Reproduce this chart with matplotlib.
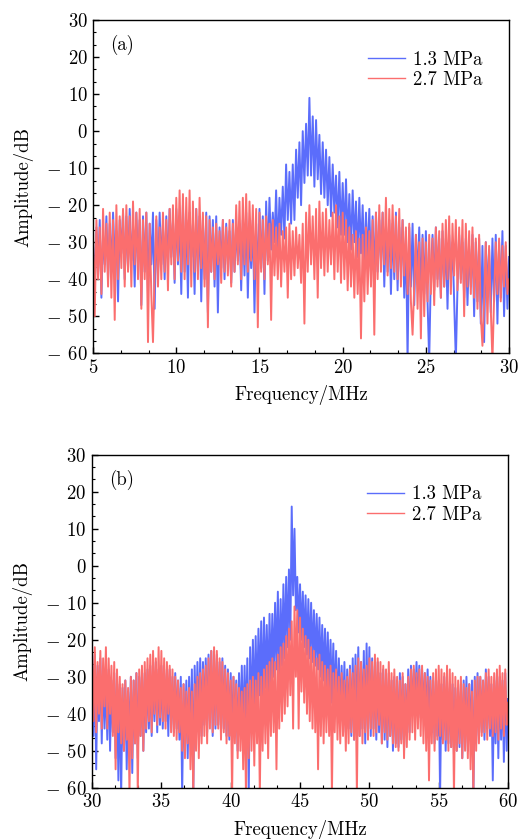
import numpy as np
import matplotlib
matplotlib.use('Agg')
import matplotlib.pyplot as plt
from matplotlib.ticker import MultipleLocator, AutoMinorLocator, FuncFormatter

# 字体: Computer Modern
plt.rcParams['font.family'] = 'serif'
plt.rcParams['font.serif'] = ['cmr10']
plt.rcParams['mathtext.fontset'] = 'cm'
plt.rcParams['axes.formatter.use_mathtext'] = True
plt.rcParams['font.size'] = 13.5

labels = ['1.3 MPa', '2.7 MPa']
colors = ['#5b6dfb', '#fb6e6e']

# (a) 5-30 MHz, 步长 0.1 MHz
freq_a_range = (5, 30)
amp_a_13 = [
    -30, -42, -26, -38, -24, -45, -28, -36, -23, -40,
    -25, -38, -22, -34, -27, -46, -24, -33, -22, -40,
    -23, -37, -21, -35, -26, -42, -22, -36, -24, -47,
    -23, -38, -22, -44, -25, -36, -22, -48, -24, -39,
    -22, -36, -25, -40, -23, -37, -21, -34, -24, -41,
    -21, -36, -23, -44, -20, -38, -24, -45, -22, -34,
    -25, -44, -21, -38, -23, -46, -24, -40, -22, -49,
    -23, -38, -24, -42, -23, -49, -26, -37, -24, -40,
    -25, -36, -27, -41, -24, -38, -26, -35, -25, -43,
    -24, -39, -22, -45, -26, -37, -24, -49, -25, -40,
    -21, -37, -23, -44, -19, -35, -18, -32, -22, -30,
    -16, -33, -18, -28, -15, -29, -9, -24, -11, -25,
    -9, -24, -5, -18, -3, -20, 0, -14, 2, -12,
    9, -12, 4, -15, 3, -13, -1, -17, -3, -18,
    -5, -20, -7, -23, -9, -22, -12, -26, -11, -28,
    -14, -28, -13, -30, -17, -32, -16, -30, -19, -34,
    -18, -33, -20, -36, -22, -35, -21, -38, -23, -40,
    -22, -38, -24, -36, -22, -42, -25, -38, -24, -44,
    -25, -40, -22, -43, -26, -38, -24, -45, -27, -62,
    -26, -42, -25, -47, -28, -40, -26, -45, -28, -44,
    -27, -46, -62, -38, -28, -43, -26, -40, -29, -45,
    -27, -42, -29, -48, -28, -40, -30, -46, -62, -42,
    -28, -40, -30, -45, -29, -47, -31, -42, -28, -50,
    -30, -46, -29, -52, -31, -57, -30, -44, -32, -49,
    -29, -46, -28, -52, -30, -45, -27, -50, -31, -48,
    -34,
]
amp_a_27 = [
    -27, -50, -24, -40, -26, -44, -21, -38, -25, -42,
    -22, -45, -24, -51, -20, -40, -23, -37, -21, -42,
    -20, -38, -23, -42, -19, -36, -22, -40, -21, -48,
    -24, -40, -22, -57, -25, -44, -57, -38, -23, -42,
    -26, -40, -22, -38, -24, -43, -21, -36, -20, -40,
    -18, -35, -16, -38, -17, -40, -18, -36, -16, -42,
    -19, -38, -21, -40, -18, -37, -22, -42, -23, -53,
    -24, -38, -26, -40, -25, -36, -27, -41, -24, -38,
    -26, -39, -24, -42, -25, -38, -20, -36, -19, -40,
    -18, -36, -17, -38, -19, -35, -20, -40, -21, -53,
    -22, -38, -24, -40, -23, -36, -25, -51, -24, -39,
    -26, -40, -25, -42, -27, -38, -26, -45, -25, -40,
    -27, -39, -26, -37, -28, -41, -25, -52, -22, -38,
    -20, -36, -23, -40, -21, -45, -19, -37, -22, -39,
    -21, -38, -24, -36, -22, -40, -20, -38, -23, -41,
    -22, -40, -24, -43, -26, -42, -28, -45, -27, -44,
    -29, -56, -28, -46, -26, -44, -27, -42, -24, -55,
    -22, -40, -20, -38, -22, -36, -18, -39, -21, -37,
    -20, -38, -23, -40, -21, -42, -24, -39, -26, -44,
    -25, -46, -55, -42, -28, -48, -30, -56, -29, -50,
    -30, -46, -28, -44, -29, -47, -26, -42, -27, -45,
    -25, -42, -24, -40, -23, -44, -25, -39, -24, -43,
    -26, -41, -24, -50, -25, -42, -27, -44, -26, -45,
    -29, -48, -28, -50, -58, -46, -30, -52, -31, -48,
    -62, -45, -30, -44, -29, -46, -31, -42, -30, -44,
    -40,
]

# (b) 30-60 MHz, 步长 0.1 MHz
freq_b_range = (30, 60)
amp_b_13 = [
    -26, -46, -24, -55, -27, -42, -25, -48, -28, -44,
    -30, -47, -28, -50, -31, -45, -29, -52, -30, -58,
    -32, -62, -33, -50, -31, -55, -34, -48, -30, -56,
    -31, -48, -29, -52, -30, -46, -28, -50, -29, -45,
    -28, -44, -27, -46, -29, -42, -26, -45, -28, -43,
    -27, -44, -28, -42, -29, -46, -28, -43, -30, -45,
    -29, -44, -31, -47, -30, -62, -32, -50, -31, -52,
    -30, -48, -28, -62, -27, -45, -26, -44, -25, -46,
    -26, -43, -25, -45, -24, -42, -23, -46, -25, -44,
    -24, -43, -26, -45, -25, -44, -27, -46, -28, -47,
    -29, -48, -30, -46, -31, -50, -29, -45, -27, -47,
    -27, -44, -25, -62, -22, -42, -20, -40, -19, -38,
    -17, -35, -15, -37, -14, -33, -16, -34, -13, -32,
    -13, -30, -10, -28, -7, -31, -9, -27, -5, -25,
    -3, -22, -1, -20, 16, -8, 10, -12, -3, -18,
    -5, -20, -7, -22, -8, -24, -9, -25, -10, -26,
    -12, -27, -13, -28, -14, -30, -16, -31, -17, -33,
    -18, -35, -20, -37, -21, -38, -23, -40, -25, -42,
    -27, -43, -26, -45, -28, -44, -27, -46, -25, -47,
    -24, -45, -22, -46, -26, -44, -23, -48, -21, -45,
    -22, -46, -25, -44, -27, -47, -26, -45, -29, -48,
    -28, -47, -30, -49, -29, -46, -31, -50, -30, -48,
    -31, -49, -29, -47, -30, -50, -32, -46, -28, -45,
    -27, -40, -28, -38, -26, -39, -27, -41, -28, -40,
    -29, -42, -28, -43, -30, -45, -31, -48, -30, -46,
    -31, -62, -32, -47, -30, -50, -31, -48, -33, -49,
    -32, -51, -33, -50, -34, -49, -32, -52, -31, -48,
    -30, -50, -32, -47, -31, -62, -30, -48, -29, -46,
    -30, -45, -31, -47, -28, -44, -30, -46, -32, -58,
    -31, -48, -29, -52, -30, -47, -31, -53, -29, -50,
    -36,
]
amp_b_27 = [
    -24, -42, -22, -45, -26, -40, -23, -44, -25, -38,
    -22, -44, -25, -40, -27, -46, -26, -55, -28, -45,
    -30, -48, -32, -50, -31, -47, -33, -62, -30, -52,
    -31, -48, -29, -62, -28, -46, -27, -50, -26, -44,
    -25, -42, -24, -45, -23, -40, -25, -43, -22, -41,
    -23, -42, -25, -44, -26, -40, -27, -45, -28, -46,
    -30, -47, -31, -45, -33, -50, -32, -52, -34, -48,
    -33, -55, -34, -62, -32, -50, -30, -52, -29, -48,
    -28, -46, -27, -48, -25, -44, -23, -45, -22, -43,
    -23, -44, -25, -47, -26, -45, -28, -48, -29, -46,
    -31, -62, -30, -48, -32, -52, -33, -50, -34, -55,
    -33, -62, -32, -52, -31, -50, -30, -54, -31, -48,
    -29, -62, -30, -50, -28, -48, -27, -52, -26, -46,
    -25, -45, -26, -55, -24, -44, -22, -42, -21, -40,
    -19, -38, -17, -35, -15, -44, -11, -30, -12, -44,
    -14, -34, -17, -37, -19, -40, -20, -42, -22, -44,
    -23, -45, -25, -55, -24, -46, -26, -48, -27, -45,
    -28, -46, -27, -62, -29, -45, -28, -47, -30, -48,
    -29, -46, -31, -50, -30, -48, -28, -45, -29, -47,
    -27, -62, -25, -46, -26, -48, -28, -45, -27, -47,
    -25, -44, -26, -46, -24, -45, -25, -43, -26, -48,
    -27, -45, -28, -47, -26, -46, -29, -48, -28, -49,
    -30, -50, -31, -48, -29, -52, -32, -49, -30, -47,
    -28, -45, -27, -47, -29, -44, -28, -46, -27, -48,
    -29, -50, -30, -58, -31, -48, -29, -50, -28, -47,
    -27, -46, -28, -48, -29, -47, -27, -50, -28, -49,
    -29, -62, -30, -50, -31, -48, -30, -52, -32, -50,
    -33, -52, -32, -55, -34, -62, -31, -50, -30, -48,
    -30, -46, -31, -45, -29, -47, -28, -44, -30, -46,
    -29, -45, -28, -47, -27, -44, -29, -46, -28, -43,
    -37,
]


# 刻度标签: 负号用宽的, 后面留空
def tick_fmt(v, pos):
    if v < 0:
        return '$\u2212\\;\\,%d$' % (-v)
    return '$%d$' % v


# 画一个子图
def draw_panel(ax, frange, series, tag):
    for amp, c, lab in zip(series, colors, labels):
        f = np.linspace(frange[0], frange[1], len(amp))
        ax.plot(f, amp, color=c, lw=1.4, label=lab)
    ax.set_xlim(frange)
    ax.set_ylim(-60, 30)
    ax.xaxis.set_major_locator(MultipleLocator(5))
    ax.yaxis.set_major_locator(MultipleLocator(10))
    ax.xaxis.set_minor_locator(AutoMinorLocator(3))
    ax.yaxis.set_minor_locator(AutoMinorLocator(3))
    ax.xaxis.set_major_formatter(FuncFormatter(tick_fmt))
    ax.yaxis.set_major_formatter(FuncFormatter(tick_fmt))
    ax.tick_params(which='both', direction='in', top=False, right=False)
    ax.tick_params(which='major', length=4, width=1, pad=4)
    ax.tick_params(which='minor', length=2.5, width=0.8)
    for s in ax.spines.values():
        s.set_linewidth(1.0)
    ax.set_xlabel('Frequency/MHz', labelpad=6)
    ax.set_ylabel('Amplitude/dB', labelpad=9)
    ax.text(0.04, 0.925, tag, transform=ax.transAxes, va='center', ha='left')
    lg = ax.legend(loc='upper right', bbox_to_anchor=(0.955, 0.93), frameon=False,
                   handlelength=2.0, labelspacing=0.12, handletextpad=0.43,
                   borderaxespad=0.0)
    for h in lg.get_lines():
        h.set_linewidth(1.0)


fig = plt.figure(figsize=(5.2, 8.39), dpi=100)
ax1 = fig.add_axes([0.179, 0.579, 0.8, 0.397])
ax2 = fig.add_axes([0.177, 0.061, 0.8, 0.397])
draw_panel(ax1, freq_a_range, [amp_a_13, amp_a_27], '(a)')
draw_panel(ax2, freq_b_range, [amp_b_13, amp_b_27], '(b)')

fig.savefig('out.png', dpi=100)
